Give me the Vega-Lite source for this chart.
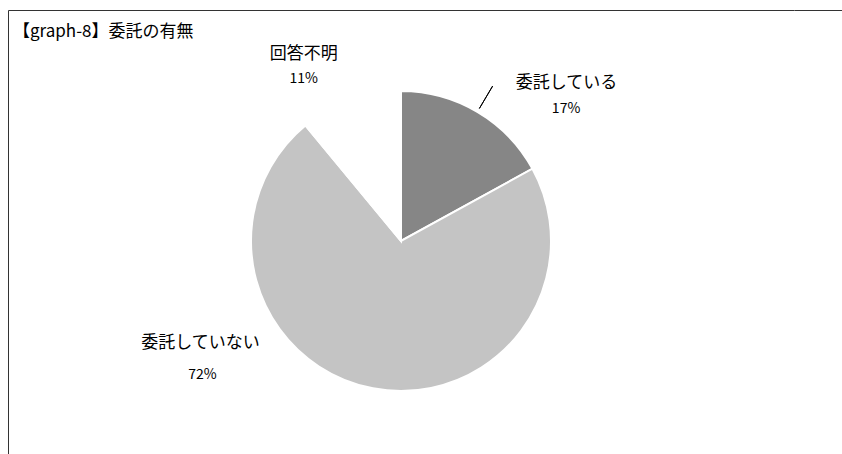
{
  "$schema": "https://vega.github.io/schema/vega-lite/v6.json",
  "autosize": {"type": "pad"},
  "padding": {"left": 7, "top": 9, "right": 0, "bottom": 0},
  "background": "white",
  "config": {"font": "Noto Sans CJK JP", "view": {"stroke": null}},
  "spacing": 0,
  "bounds": "flush",
  "hconcat": [
    {
      "width": 786,
      "height": 462,
      "title": {"text": "【graph-8】委託の有無", "anchor": "start", "frame": "group", "offset": -31, "dx": 5, "font": "Noto Sans CJK JP", "fontSize": 17, "fontWeight": "normal", "color": "#000"},
      "view": {"stroke": "#333", "strokeWidth": 1, "strokeDash": [786, 1248, 462, 0]},
      "data": {"values": [
        {"category": "委託している", "share": 0.17},
        {"category": "委託していない", "share": 0.72},
        {"category": "回答不明", "share": 0.11}
      ]},
      "encoding": {
        "theta": {"field": "share", "type": "quantitative", "stack": true},
        "order": {"field": "category", "sort": "descending"},
        "detail": {"field": "category", "type": "nominal"}
      },
      "layer": [
        {
          "mark": {"type": "arc", "outerRadius": 150, "stroke": "#fff", "strokeWidth": 2},
          "encoding": {
            "color": {"field": "category", "type": "nominal", "legend": null,
              "scale": {"domain": ["委託している", "委託していない", "回答不明"], "range": ["#868686", "#c4c4c4", "#ffffff"]}}
          }
        },
        {
          "mark": {"type": "arc", "innerRadius": 154, "outerRadius": 180, "padAngle": 3, "fill": "transparent", "stroke": "#000", "strokeWidth": 1},
          "encoding": {
            "strokeOpacity": {"condition": {"test": "datum.category === '委託している'", "value": 1}, "value": 0}
          }
        },
        {
          "mark": {"type": "text", "radius": 183.6, "dx": 72, "dy": 0, "fontSize": 17, "color": "#000", "baseline": "middle"},
          "encoding": {"text": {"field": "category", "type": "nominal", "condition": {"test": "datum.category !== '委託している'", "value": ""}}}
        },
        {
          "mark": {"type": "text", "radius": 153.4, "dx": 87, "dy": 0, "fontSize": 14, "color": "#000", "baseline": "middle"},
          "encoding": {"text": {"field": "share", "type": "quantitative", "format": ".0%", "condition": {"test": "datum.category !== '委託している'", "value": ""}}}
        },
        {
          "mark": {"type": "text", "radius": 198.7, "dx": -30, "dy": 0, "fontSize": 17, "color": "#000", "baseline": "middle"},
          "encoding": {"text": {"field": "category", "type": "nominal", "condition": {"test": "datum.category !== '回答不明'", "value": ""}}}
        },
        {
          "mark": {"type": "text", "radius": 172.2, "dx": -39, "dy": 0, "fontSize": 14, "color": "#000", "baseline": "middle"},
          "encoding": {"text": {"field": "share", "type": "quantitative", "format": ".0%", "condition": {"test": "datum.category !== '回答不明'", "value": ""}}}
        },
        {
          "mark": {"type": "text", "radius": 103.8, "dx": -181, "dy": 0, "fontSize": 17, "color": "#000", "baseline": "middle"},
          "encoding": {"text": {"field": "category", "type": "nominal", "condition": {"test": "datum.category !== '委託していない'", "value": ""}}}
        },
        {
          "mark": {"type": "text", "radius": 136.4, "dx": -173, "dy": 0, "fontSize": 14, "color": "#000", "baseline": "middle"},
          "encoding": {"text": {"field": "share", "type": "quantitative", "format": ".0%", "condition": {"test": "datum.category !== '委託していない'", "value": ""}}}
        }
      ]
    },
    {
      "width": 49,
      "height": 462,
      "view": {"stroke": "#333", "strokeWidth": 1, "strokeDash": [49, 2000]},
      "data": {"values": []},
      "mark": "point"
    }
  ]
}
